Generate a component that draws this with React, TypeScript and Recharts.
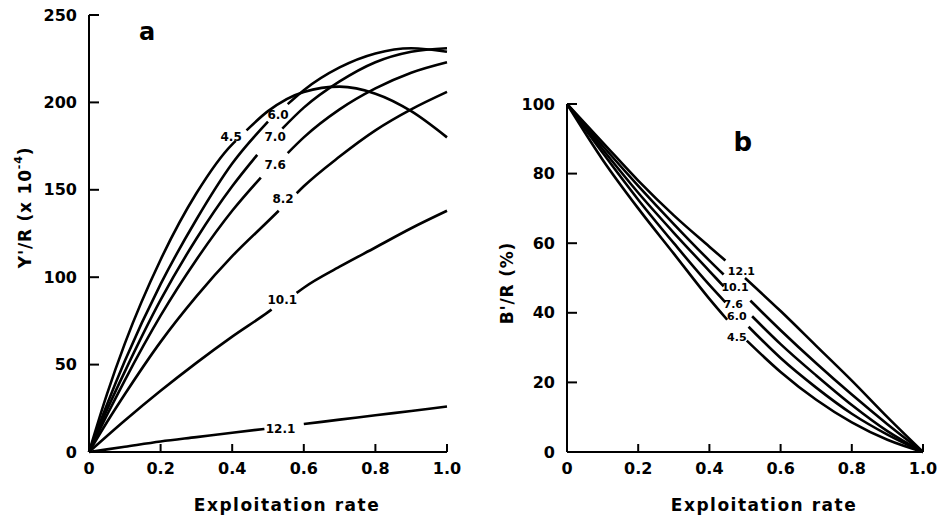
import React from 'react';
import { LineChart, Line, XAxis, YAxis, ReferenceDot, Label } from 'recharts';

// ---------- shared ticks ----------
const xTicks = [0, 0.2, 0.4, 0.6, 0.8, 1.0];
const xTickLabels = ['0', '0.2', '0.4', '0.6', '0.8', '1.0'];
const yTicksA = [0, 50, 100, 150, 200, 250];
const yTicksB = [0, 20, 40, 60, 80, 100];

// ---------- panel a : Y'/R (x10^-4) ----------
const a45X = [0, 0.05, 0.1, 0.2, 0.3, 0.4, 0.41, 0.425, 0.44, 0.5, 0.6, 0.7, 0.8, 0.9, 1];
const a45Y = [0, 33, 62, 110, 148, 176, 178, null, 184, 195, 206, 209, 205, 195, 180];
const a60X = [0, 0.05, 0.1, 0.2, 0.3, 0.4, 0.5, 0.525, 0.555, 0.6, 0.7, 0.8, 0.9, 1];
const a60Y = [0, 27, 52, 96, 133, 165, 189, null, 199, 207, 220, 228, 231, 229];
const a70X = [0, 0.05, 0.1, 0.2, 0.3, 0.4, 0.47, 0.505, 0.54, 0.6, 0.7, 0.8, 0.9, 1];
const a70Y = [0, 24, 46, 87, 122, 152, 170, null, 185, 197, 212, 223, 229, 231];
const a76X = [0, 0.05, 0.1, 0.2, 0.3, 0.4, 0.48, 0.52, 0.555, 0.6, 0.7, 0.8, 0.9, 1];
const a76Y = [0, 21, 41, 78, 110, 138, 157, null, 171, 180, 196, 208, 217, 223];
const a82X = [0, 0.05, 0.1, 0.2, 0.3, 0.4, 0.5, 0.53, 0.555, 0.58, 0.6, 0.7, 0.8, 0.9, 1];
const a82Y = [0, 17, 33, 63, 89, 112, 132, 138, null, 148, 152, 169, 184, 196, 206];
const a101X = [0, 0.1, 0.2, 0.3, 0.4, 0.5, 0.51, 0.545, 0.58, 0.6, 0.7, 0.8, 0.9, 1];
const a101Y = [0, 18, 35, 51, 66, 80, 81.5, null, 91, 94, 106, 117, 128, 138];
const a121X = [0, 0.1, 0.2, 0.3, 0.4, 0.49, 0.545, 0.6, 0.7, 0.8, 0.9, 1];
const a121Y = [0, 3, 6, 8.5, 11, 13.2, null, 16, 18.5, 21, 23.5, 26];

const aLabels = ['4.5', '6.0', '7.0', '7.6', '8.2', '10.1', '12.1'];
const aLabelX = [0.397, 0.528, 0.52, 0.52, 0.542, 0.54, 0.535];
const aLabelY = [180, 193, 180, 164, 145, 87, 13];

// ---------- panel b : B'/R (%) ----------
const b121X = [0, 0.1, 0.2, 0.3, 0.4, 0.445, 0.47, 0.5, 0.6, 0.7, 0.8, 0.9, 1];
const b121Y = [100, 89, 78, 68, 59, 55, null, 50, 40.5, 30.5, 20.5, 10, 0];
const b101X = [0, 0.1, 0.2, 0.3, 0.4, 0.44, 0.48, 0.515, 0.6, 0.7, 0.8, 0.9, 1];
const b101Y = [100, 88, 76.5, 65.5, 55, 51, null, 43.5, 35, 25.5, 16.5, 8, 0];
const b76X = [0, 0.1, 0.2, 0.3, 0.4, 0.44, 0.48, 0.52, 0.6, 0.7, 0.8, 0.9, 1];
const b76Y = [100, 87, 74.5, 63, 52, 47.6, null, 39, 31, 22, 13.5, 6, 0];
const b60X = [0, 0.1, 0.2, 0.3, 0.4, 0.445, 0.48, 0.51, 0.6, 0.7, 0.8, 0.9, 1];
const b60Y = [100, 86, 72.5, 60, 48, 43, null, 36, 27, 18.5, 11, 5, 0];
const b45X = [0, 0.1, 0.2, 0.3, 0.4, 0.45, 0.48, 0.505, 0.6, 0.7, 0.8, 0.9, 1];
const b45Y = [100, 84, 70, 57, 44, 38, null, 32, 23, 15, 8.5, 3.5, 0];

const bLabels = ['12.1', '10.1', '7.6', '6.0', '4.5'];
const bLabelX = [0.49, 0.472, 0.467, 0.477, 0.477];
const bLabelY = [52, 47.4, 42.5, 38.8, 33];

const panelLetterA = { text: 'a', x: 0.162, y: 240 };
const panelLetterB = { text: 'b', x: 0.494, y: 89 };

const toPts = (xs: number[], ys: (number | null)[]) => xs.map((x, i) => ({ x, y: ys[i] }));

const seriesA = [
  toPts(a45X, a45Y), toPts(a60X, a60Y), toPts(a70X, a70Y), toPts(a76X, a76Y),
  toPts(a82X, a82Y), toPts(a101X, a101Y), toPts(a121X, a121Y),
];
const seriesB = [
  toPts(b121X, b121Y), toPts(b101X, b101Y), toPts(b76X, b76Y), toPts(b60X, b60Y), toPts(b45X, b45Y),
];

const FONT = '"DejaVu Sans", Arial, sans-serif';
const tickStyle = { fontSize: 16, fontWeight: 700, fill: '#000', fontFamily: FONT };

const textShape = (text: string, size: number) => (props: any) => (
  <text
    x={props.cx}
    y={props.cy}
    textAnchor="middle"
    dominantBaseline="central"
    fontSize={size}
    fontWeight={700}
    fontFamily={FONT}
    fill="#000"
  >
    {text}
  </text>
);

const xTitle = (props: any) => {
  const vb = props.viewBox || { x: 0, y: 0, width: 0, height: 0 };
  return (
    <text
      x={vb.x + vb.width / 2 + 19}
      y={vb.y + 53}
      textAnchor="middle"
      dominantBaseline="central"
      fontSize={17}
      fontWeight={700}
      letterSpacing={1.5}
      fontFamily={FONT}
      fill="#000"
    >
      Exploitation rate
    </text>
  );
};

const yTitleA = (props: any) => {
  const vb = props.viewBox || { x: 0, y: 0, width: 0, height: 0 };
  const cx = vb.x + 25;
  const cy = vb.y + vb.height / 2 - 26;
  return (
    <text
      x={cx}
      y={cy}
      transform={`rotate(-90 ${cx} ${cy})`}
      textAnchor="middle"
      dominantBaseline="central"
      fontSize={17}
      fontWeight={700}
      letterSpacing={0.8}
      fontFamily={FONT}
      fill="#000"
    >
      <tspan>Y'/R (x 10</tspan>
      <tspan dy={-7} fontSize={11}>-4</tspan>
      <tspan dy={7}>)</tspan>
    </text>
  );
};

const yTitleB = (props: any) => {
  const vb = props.viewBox || { x: 0, y: 0, width: 0, height: 0 };
  const cx = vb.x + 37;
  const cy = vb.y + vb.height / 2 + 5;
  return (
    <text
      x={cx}
      y={cy}
      transform={`rotate(-90 ${cx} ${cy})`}
      textAnchor="middle"
      dominantBaseline="central"
      fontSize={17}
      fontWeight={700}
      letterSpacing={0.8}
      fontFamily={FONT}
      fill="#000"
    >
      B'/R (%)
    </text>
  );
};

const axisLine = { stroke: '#000', strokeWidth: 2 };
const tickLine = { stroke: '#000', strokeWidth: 2 };

export default function App() {
  return (
    <div style={{ position: 'absolute', left: 0, top: 0, width: 941, height: 521, background: '#fff' }}>
      <div style={{ position: 'absolute', left: 0, top: 0 }}>
        <LineChart width={470} height={521} margin={{ top: 15, right: 23, bottom: 29, left: 0 }}>
          <XAxis
            type="number"
            dataKey="x"
            domain={[0, 1]}
            ticks={xTicks}
            tickFormatter={(v: number) => xTickLabels[xTicks.indexOf(v)] ?? String(v)}
            height={40}
            axisLine={axisLine}
            tickLine={tickLine}
            tickSize={-8}
            tickMargin={19}
            tick={tickStyle}
            allowDuplicatedCategory={false}
          >
            <Label content={xTitle} />
          </XAxis>
          <YAxis
            type="number"
            dataKey="y"
            domain={[0, 250]}
            ticks={yTicksA}
            width={89}
            axisLine={axisLine}
            tickLine={tickLine}
            tickSize={-10}
            tickMargin={22}
            tick={tickStyle}
          >
            <Label content={yTitleA} />
          </YAxis>
          {seriesA.map((d, i) => (
            <Line
              key={'a' + i}
              data={d}
              dataKey="y"
              type="monotone"
              stroke="#000"
              strokeWidth={2.6}
              dot={false}
              activeDot={false}
              connectNulls={false}
              isAnimationActive={false}
            />
          ))}
          {aLabels.map((t, i) => (
            <ReferenceDot key={'al' + i} x={aLabelX[i]} y={aLabelY[i]} r={1} shape={textShape(t, 12)} />
          ))}
          <ReferenceDot x={panelLetterA.x} y={panelLetterA.y} r={1} shape={textShape(panelLetterA.text, 24)} />
        </LineChart>
      </div>
      <div style={{ position: 'absolute', left: 470, top: 0 }}>
        <LineChart width={471} height={521} margin={{ top: 104, right: 18, bottom: 29, left: 0 }}>
          <XAxis
            type="number"
            dataKey="x"
            domain={[0, 1]}
            ticks={xTicks}
            tickFormatter={(v: number) => xTickLabels[xTicks.indexOf(v)] ?? String(v)}
            height={40}
            axisLine={axisLine}
            tickLine={tickLine}
            tickSize={-8}
            tickMargin={19}
            tick={tickStyle}
            allowDuplicatedCategory={false}
          >
            <Label content={xTitle} />
          </XAxis>
          <YAxis
            type="number"
            dataKey="y"
            domain={[0, 100]}
            ticks={yTicksB}
            width={97}
            axisLine={axisLine}
            tickLine={tickLine}
            tickSize={-10}
            tickMargin={22}
            tick={tickStyle}
          >
            <Label content={yTitleB} />
          </YAxis>
          {seriesB.map((d, i) => (
            <Line
              key={'b' + i}
              data={d}
              dataKey="y"
              type="monotone"
              stroke="#000"
              strokeWidth={2.6}
              dot={false}
              activeDot={false}
              connectNulls={false}
              isAnimationActive={false}
            />
          ))}
          {bLabels.map((t, i) => (
            <ReferenceDot key={'bl' + i} x={bLabelX[i]} y={bLabelY[i]} r={1} shape={textShape(t, 11)} />
          ))}
          <ReferenceDot x={panelLetterB.x} y={panelLetterB.y} r={1} shape={textShape(panelLetterB.text, 26)} />
        </LineChart>
      </div>
    </div>
  );
}
